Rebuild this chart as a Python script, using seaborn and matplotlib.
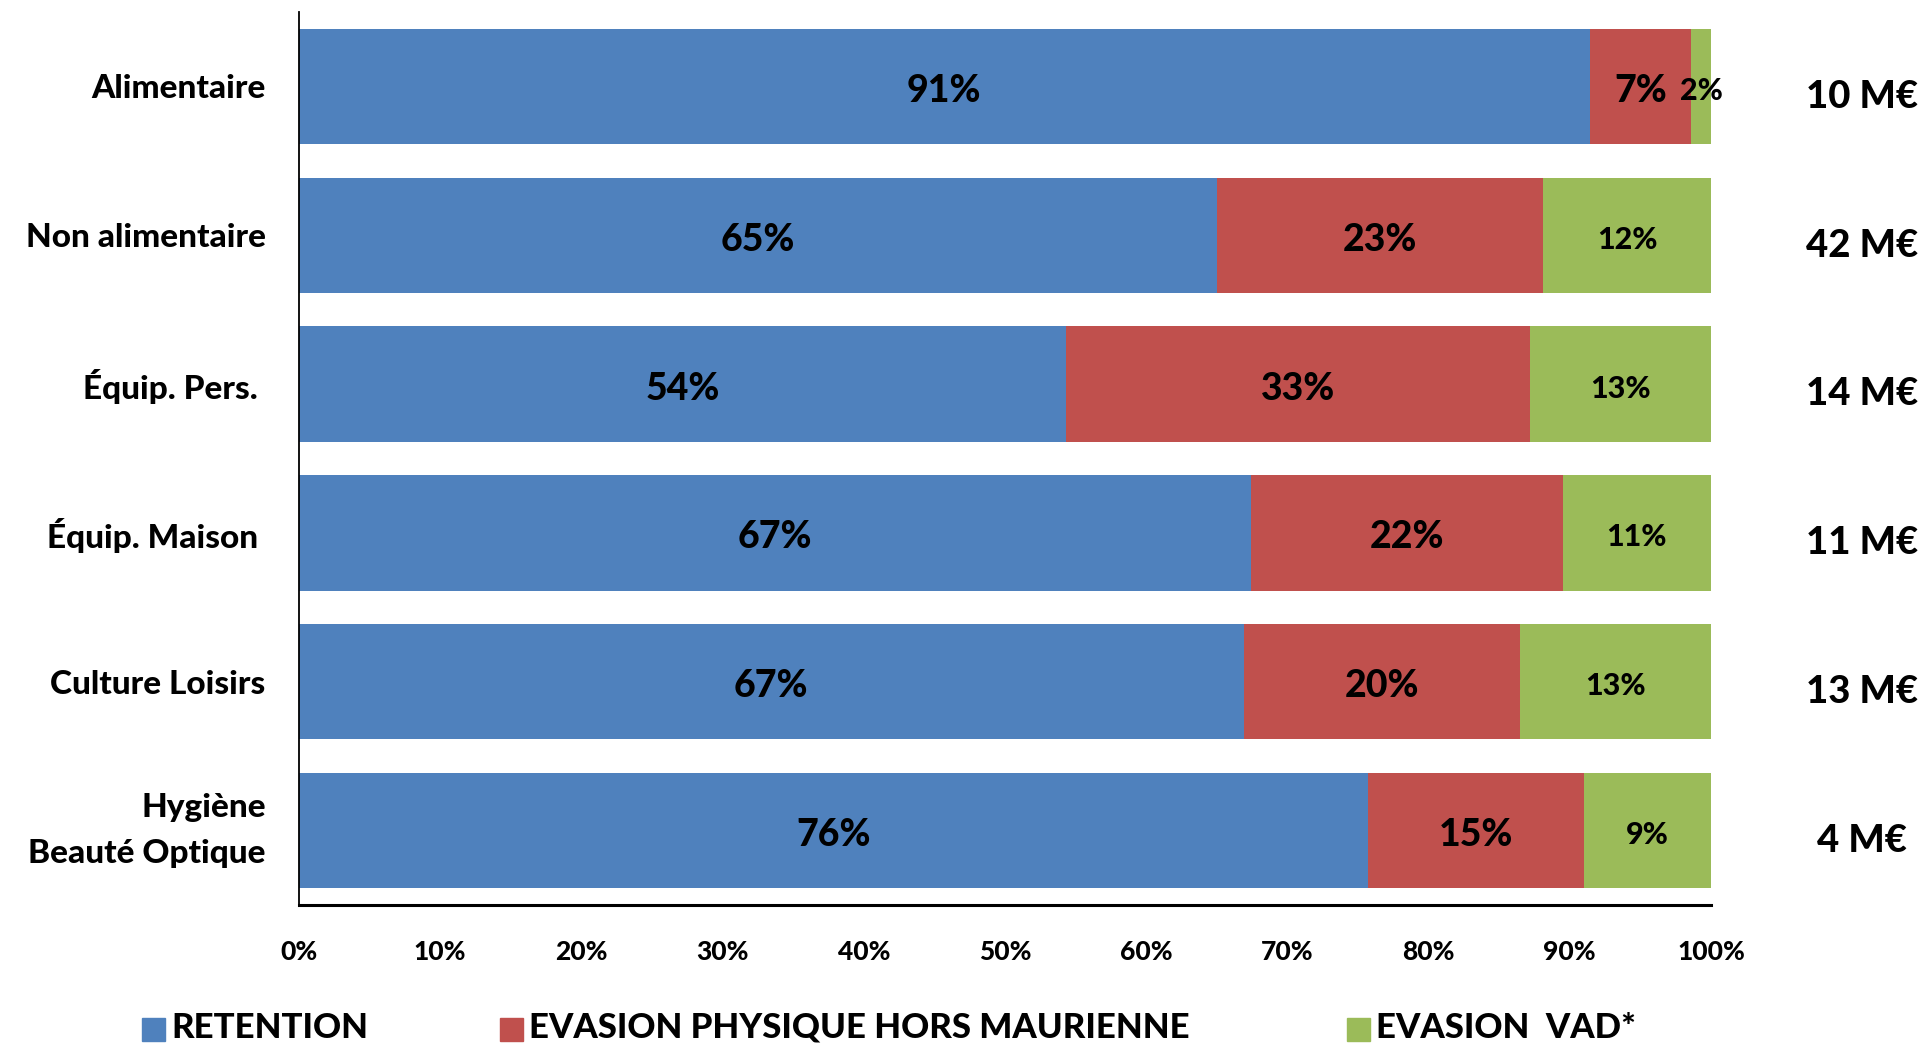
import matplotlib
matplotlib.use("Agg")
import matplotlib.pyplot as plt
import seaborn as sns
import numpy as np
import pandas as pd
from matplotlib.patches import Rectangle

categories = ["Alimentaire", "Non alimentaire", "Équip. Pers. ", "Équip. Maison ", "Culture Loisirs", "Hygiène\nBeauté Optique"]
retention = [91.4, 65.0, 54.3, 67.4, 66.9, 75.7]
evasion_physique = [7.2, 23.1, 32.9, 22.1, 19.6, 15.3]
evasion_vad = [1.4, 11.9, 12.8, 10.5, 13.5, 9.0]
label_retention = ["91%", "65%", "54%", "67%", "67%", "76%"]
label_physique = ["7%", "23%", "33%", "22%", "20%", "15%"]
label_vad = ["2%", "12%", "13%", "11%", "13%", "9%"]
totals = ["10 M€", "42 M€", "14 M€", "11 M€", "13 M€", "4 M€"]
series_names = ["RETENTION", "EVASION PHYSIQUE HORS MAURIENNE", "EVASION  VAD*"]
colors = ["#4F81BD", "#C0504D", "#9BBB59"]
xticks = list(range(0, 101, 10))

sns.set_style("white")
plt.rcParams['font.family'] = ['Lato', 'DejaVu Sans']
W = "black"
plt.rcParams['font.weight'] = W
plt.rcParams['text.color'] = 'black'
plt.rcParams['xtick.color'] = 'black'
plt.rcParams['ytick.color'] = 'black'

df = pd.DataFrame({"cat": categories, "r": retention, "p": evasion_physique, "v": evasion_vad})
df["c1"] = df["r"]
df["c2"] = df["r"] + df["p"]
df["c3"] = df["r"] + df["p"] + df["v"]

fig = plt.figure(figsize=(19.24, 10.45), dpi=100)
ax = fig.add_axes([0.1554, 0.134, 0.8893 - 0.1554, 0.9885 - 0.134])

for col, colr in zip(["c3", "c2", "c1"], colors[::-1]):
    sns.barplot(data=df, x=col, y="cat", orient="h", color=colr, width=0.775,
                saturation=1, ax=ax, order=categories, linewidth=0)

ax.set_xlim(0, 100)
ax.set_ylim(len(categories) - 0.5, -0.5)
ax.set_xlabel("")
ax.set_ylabel("")

ax.set_xticks(xticks)
ax.set_xticklabels([f"{t}%" for t in xticks], fontsize=19, fontweight=W, color="black")
ax.tick_params(axis="x", direction="out", length=9, width=1.3, color="black", pad=16)

ax.set_yticks(np.arange(len(categories)))
ax.set_yticklabels(categories, fontsize=24, fontweight=W, linespacing=1.7, color="black")
ax.get_yticklabels()[-1].set_va("center")
ax.tick_params(axis="y", which="major", length=0, pad=24)
ax.set_yticks(np.arange(len(categories) + 1) - 0.5, minor=True)
ax.tick_params(axis="y", which="minor", direction="out", length=9, width=1.3, color="black")

for s in ["top", "right"]:
    ax.spines[s].set_visible(False)
for s in ["left", "bottom"]:
    ax.spines[s].set_color("black")
ax.spines["left"].set_linewidth(1.3)
ax.spines["bottom"].set_linewidth(2.2)

for i in range(len(categories)):
    r, p, v = retention[i], evasion_physique[i], evasion_vad[i]
    y = i + 0.03
    ax.text(r / 2, y, label_retention[i], ha="center", va="center", fontsize=27, fontweight=W)
    ax.text(r + p / 2, y, label_physique[i], ha="center", va="center", fontsize=27, fontweight=W)
    ax.text(r + p + v / 2, y, label_vad[i], ha="center", va="center", fontsize=22, fontweight=W)
    ax.text(110.7, i + 0.07, totals[i], ha="center", va="center", fontsize=27.5, fontweight=W, clip_on=False)

# legend
xs = [0.074, 0.26, 0.70]
for name, x0, c in zip(series_names, xs, colors):
    fig.patches.append(Rectangle((x0, 0.004), 0.012, 0.022, transform=fig.transFigure, color=c, figure=fig))
    fig.text(x0 + 0.015, 0.0165, name, fontsize=25, fontweight=W, va="center", ha="left")

fig.savefig("out.png", dpi=100)
